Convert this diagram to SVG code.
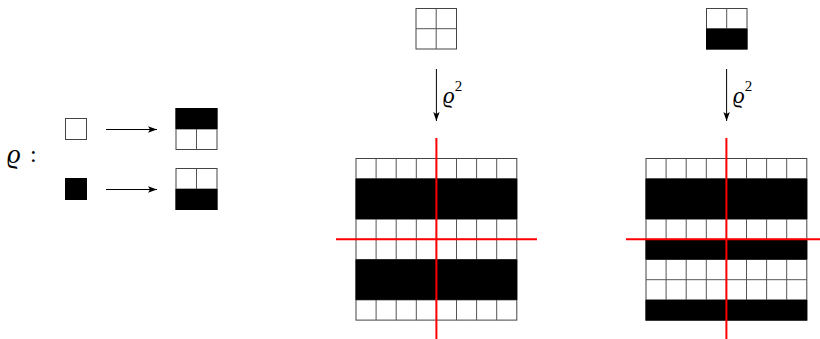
<svg xmlns="http://www.w3.org/2000/svg" width="820" height="339" viewBox="0 0 820 339">
<style>
.cell{fill:#fff;stroke:#444;stroke-width:1}
.blk{fill:#000;stroke:none}
.gl{fill:none;stroke:#555;stroke-width:1}
.red{stroke:#f00;stroke-width:2;fill:none}
.arr{stroke:#000;stroke-width:1;fill:none}
.math{font-family:"Liberation Serif","DejaVu Serif",serif;font-style:italic;fill:#000}
</style>
<defs>
<marker id="ah" markerWidth="10" markerHeight="8" refX="9" refY="4" orient="auto" markerUnits="userSpaceOnUse">
<path d="M0,0.8 L9,4 L0,7.2 L2,4 Z" fill="#000"/>
</marker>
</defs>
<rect width="820" height="339" fill="#fff"/>

<g id="label-rho">
<text class="math" x="7" y="163" font-size="27">ϱ</text>
<text x="30" y="162" font-family="Liberation Serif,serif" font-size="24" fill="#000">:</text>
</g>

<g id="white-tile">
<rect class="cell" x="65.5" y="118.5" width="21" height="21"/>
</g>
<g id="black-tile">
<rect x="65" y="178" width="22" height="22" fill="#000"/>
</g>

<g id="white-image">
<rect class="cell" x="176" y="108.5" width="41" height="41"/>
<path class="gl" d="M196.5,129 V149.5 M176,129 H217"/>
<rect class="blk" x="175.5" y="108" width="42" height="21"/>
</g>
<g id="black-image">
<rect class="cell" x="176" y="168.5" width="41" height="41"/>
<path class="gl" d="M196.5,168.5 V189 M176,189 H217"/>
<rect class="blk" x="175.5" y="189" width="42" height="21"/>
</g>

<g id="top-white">
<rect class="cell" x="416" y="8.5" width="40.5" height="40.5"/>
<path class="gl" d="M436.2,8.5 V49 M416,28.7 H456.5"/>
</g>
<g id="top-mixed">
<rect class="cell" x="706.5" y="8.5" width="40.5" height="40.5"/>
<path class="gl" d="M726.7,8.5 V28.7 M706.5,28.7 H747"/>
<rect class="blk" x="706" y="28.7" width="41.5" height="20.8"/>
</g>

<g id="grid-middle">
<rect class="cell" x="356" y="158.5" width="160.8" height="161.6"/>
<path class="gl" d="M356,178.7 H516.8 M356,198.9 H516.8 M356,219.1 H516.8 M356,239.3 H516.8 M356,259.5 H516.8 M356,279.7 H516.8 M356,299.9 H516.8 M376.1,158.5 V320.1 M396.2,158.5 V320.1 M416.3,158.5 V320.1 M436.4,158.5 V320.1 M456.5,158.5 V320.1 M476.6,158.5 V320.1 M496.7,158.5 V320.1"/>
<rect class="blk" x="355.5" y="178.7" width="161.8" height="40.4"/>
<rect class="blk" x="355.5" y="259.5" width="161.8" height="40.4"/>
</g>

<g id="grid-right">
<rect class="cell" x="646" y="158.5" width="160.8" height="161.6"/>
<path class="gl" d="M646,178.7 H806.8 M646,198.9 H806.8 M646,219.1 H806.8 M646,239.3 H806.8 M646,259.5 H806.8 M646,279.7 H806.8 M646,299.9 H806.8 M666.1,158.5 V320.1 M686.2,158.5 V320.1 M706.3,158.5 V320.1 M726.4,158.5 V320.1 M746.5,158.5 V320.1 M766.6,158.5 V320.1 M786.7,158.5 V320.1"/>
<rect class="blk" x="645.5" y="178.7" width="161.8" height="40.4"/>
<rect class="blk" x="645.5" y="239.3" width="161.8" height="20.2"/>
<rect class="blk" x="645.5" y="299.9" width="161.8" height="20.7"/>
</g>

<g id="axes">
<path class="red" d="M436.4,138 V339 M336,239.3 H537"/>
<path class="red" d="M726.4,138 V339 M626,239.3 H820"/>
</g>

<g id="connectors">
<path class="arr" d="M106,129.5 H157" marker-end="url(#ah)"/>
<path class="arr" d="M106,189.5 H157" marker-end="url(#ah)"/>
<path class="arr" d="M436.4,69 V121" marker-end="url(#ah)"/>
<path class="arr" d="M726.6,69 V121" marker-end="url(#ah)"/>
<text class="math" x="443" y="103" font-size="23">ϱ<tspan font-size="15" font-style="normal" dy="-12">2</tspan></text>
<text class="math" x="733" y="103" font-size="23">ϱ<tspan font-size="15" font-style="normal" dy="-12">2</tspan></text>
</g>
</svg>
